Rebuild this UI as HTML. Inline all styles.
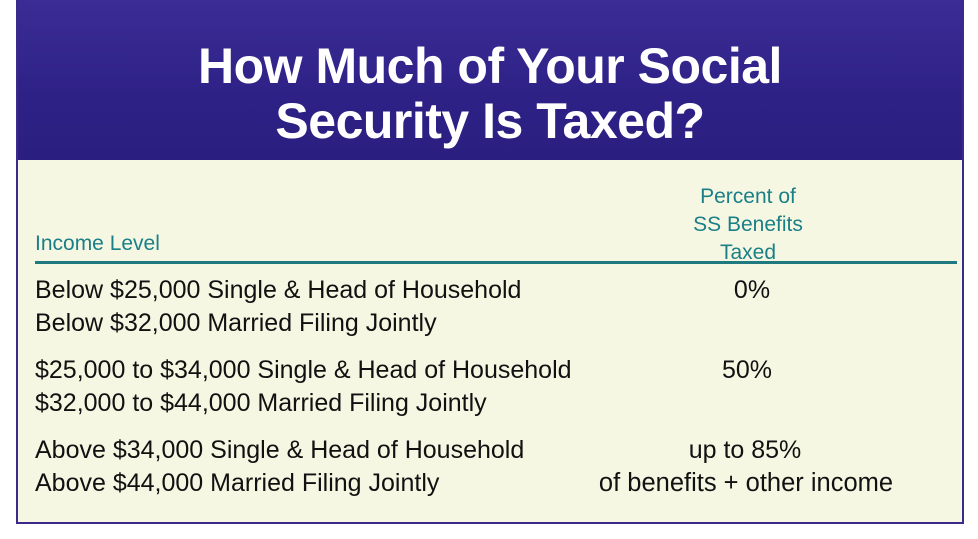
<!DOCTYPE html>
<html><head><meta charset="utf-8"><style>
body{margin:0;width:978px;height:539px;background:#fff;position:relative;overflow:hidden;font-family:"Liberation Sans",sans-serif}
#card{position:absolute;left:16px;top:0;width:944px;height:522px;border:2px solid #3b2a8a;border-top:none;background:#f6f7e3}
#hdr{position:absolute;left:0;top:0;width:944px;height:160px;background:linear-gradient(180deg,#3a2c94,#2e2186 60%,#2a1f80)}
#hdr div{position:absolute;left:0;width:944px;text-align:center;color:#fff;font-weight:bold;font-size:50px;letter-spacing:-0.5px}
.t{position:absolute;color:#111;font-size:25px;white-space:nowrap}
.h{position:absolute;color:#1a7f86;font-size:21px;white-space:nowrap}
.c{text-align:center;width:300px}
</style></head><body>
<div id="card">
<div id="hdr">
<div style="top:37px">How Much of Your Social</div>
<div style="top:92px">Security Is Taxed?</div>
</div>
<div class="h" style="left:17px;top:232px">Income Level</div>
<div class="h c" style="left:580px;top:183px;line-height:28px">Percent of<br>SS Benefits<br>Taxed</div>
<div style="position:absolute;left:17px;top:261px;width:922px;height:3px;background:#1f7a80"></div>
<div class="t" style="left:17px;top:276px">Below $25,000 Single &amp; Head of Household</div>
<div class="t" style="left:17px;top:309px">Below $32,000 Married Filing Jointly</div>
<div class="t c" style="left:584px;top:276px">0%</div>
<div class="t" style="left:17px;top:356px">$25,000 to $34,000 Single &amp; Head of Household</div>
<div class="t" style="left:17px;top:389px">$32,000 to $44,000 Married Filing Jointly</div>
<div class="t c" style="left:579px;top:356px">50%</div>
<div class="t" style="left:17px;top:436px">Above $34,000 Single &amp; Head of Household</div>
<div class="t" style="left:17px;top:469px">Above $44,000 Married Filing Jointly</div>
<div class="t c" style="left:577px;top:436px">up to 85%</div>
<div class="t c" style="left:578px;top:469px;font-size:25.5px">of benefits + other income</div>
</div>
</body></html>
